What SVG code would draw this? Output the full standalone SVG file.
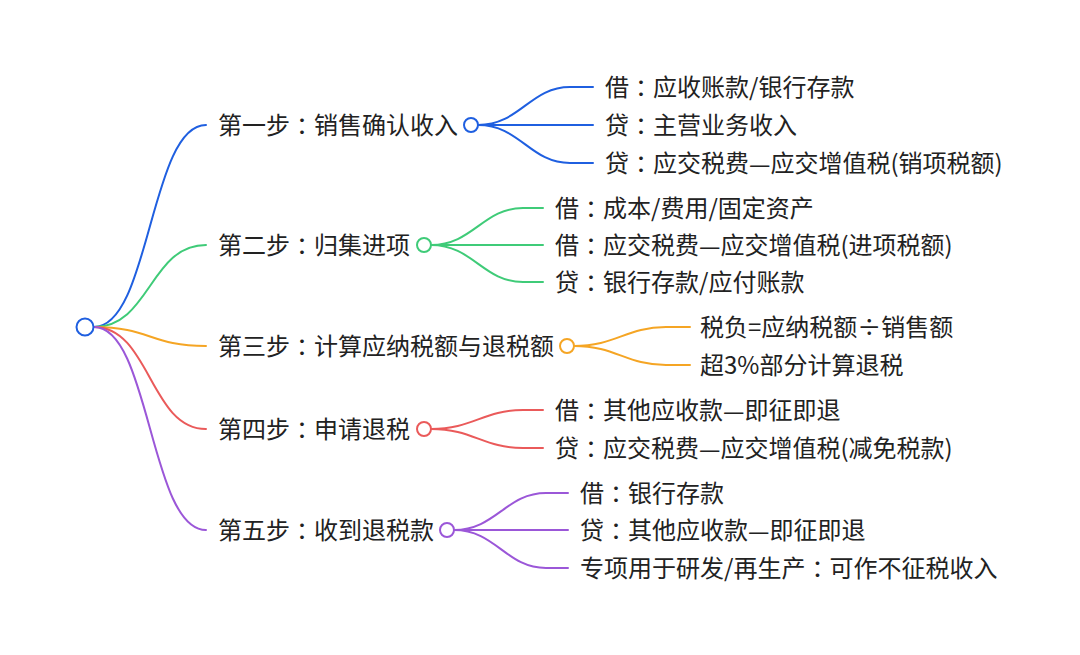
<svg xmlns="http://www.w3.org/2000/svg" width="1080" height="655" viewBox="0 0 1080 655">
<style>
text{font-family:"Noto Sans CJK SC","Noto Sans",sans-serif;font-size:24px;fill:#222;dominant-baseline:central}
.k{font-family:"Noto Sans CJK TC","Noto Sans CJK JP",sans-serif}
.l{fill:none;stroke-width:2;stroke-linecap:round}
.c{fill:#fff;stroke-width:2}
.b{stroke:#1f5fe0}.g{stroke:#3fcb78}.o{stroke:#f5a524}.r{stroke:#ea5a5a}.p{stroke:#9b57d8}
</style>
<rect width="1080" height="655" fill="#fff"/>
<g id="connectors">
<path class="l b" d="M94 327 C150 327,150 125,206 125"/>
<path class="l g" d="M94 327 C150 327,150 245,206 245"/>
<path class="l o" d="M94 327 C150 327,150 346,206 346"/>
<path class="l r" d="M94 327 C150 327,150 429,206 429"/>
<path class="l p" d="M94 327 C150 327,150 530,206 530"/>
<path class="l b" d="M478 125 C520 125,530 87,570 87 L593 87"/>
<path class="l b" d="M478 125 L593 125"/>
<path class="l b" d="M478 125 C520 125,530 163,570 163 L593 163"/>
<path class="l g" d="M431 245 C473 245,483 208,523 208 L543 208"/>
<path class="l g" d="M431 245 L543 245"/>
<path class="l g" d="M431 245 C473 245,483 282,523 282 L543 282"/>
<path class="l o" d="M574 346 C616 346,626 327,666 327 L690 327"/>
<path class="l o" d="M574 346 C616 346,626 365,666 365 L690 365"/>
<path class="l r" d="M431 429 C473 429,483 410,523 410 L543 410"/>
<path class="l r" d="M431 429 C473 429,483 448,523 448 L543 448"/>
<path class="l p" d="M454 530 C496 530,506 493,546 493 L568 493"/>
<path class="l p" d="M454 530 L568 530"/>
<path class="l p" d="M454 530 C496 530,506 568,546 568 L568 568"/>
</g>
<g id="root"><circle class="c b" cx="85" cy="327" r="8.5"/></g>
<g id="step1">
<text x="218" y="123.5">第一步<tspan class="k">：</tspan>销售确认收入</text>
<circle class="c b" cx="471" cy="125" r="7"/>
</g>
<g id="step1-a"><text x="605" y="85.5">借<tspan class="k">：</tspan>应收账款/银行存款</text></g>
<g id="step1-b"><text x="605" y="123.5">贷<tspan class="k">：</tspan>主营业务收入</text></g>
<g id="step1-c"><text x="605" y="161.5">贷<tspan class="k">：</tspan>应交税费<tspan class="k">—</tspan>应交增值税(销项税额)</text></g>
<g id="step2">
<text x="218" y="243.5">第二步<tspan class="k">：</tspan>归集进项</text>
<circle class="c g" cx="424" cy="245" r="7"/>
</g>
<g id="step2-a"><text x="555" y="206.5">借<tspan class="k">：</tspan>成本/费用/固定资产</text></g>
<g id="step2-b"><text x="555" y="243.5">借<tspan class="k">：</tspan>应交税费<tspan class="k">—</tspan>应交增值税(进项税额)</text></g>
<g id="step2-c"><text x="555" y="280.5">贷<tspan class="k">：</tspan>银行存款/应付账款</text></g>
<g id="step3">
<text x="218" y="344.5">第三步<tspan class="k">：</tspan>计算应纳税额与退税额</text>
<circle class="c o" cx="567" cy="346" r="7"/>
</g>
<g id="step3-a"><text x="700" y="325.5">税负=应纳税额÷销售额</text></g>
<g id="step3-b"><text x="700" y="363.5">超3%部分计算退税</text></g>
<g id="step4">
<text x="218" y="427.5">第四步<tspan class="k">：</tspan>申请退税</text>
<circle class="c r" cx="424" cy="429" r="7"/>
</g>
<g id="step4-a"><text x="555" y="408.5">借<tspan class="k">：</tspan>其他应收款<tspan class="k">—</tspan>即征即退</text></g>
<g id="step4-b"><text x="555" y="446.5">贷<tspan class="k">：</tspan>应交税费<tspan class="k">—</tspan>应交增值税(减免税款)</text></g>
<g id="step5">
<text x="218" y="528.5">第五步<tspan class="k">：</tspan>收到退税款</text>
<circle class="c p" cx="447" cy="530" r="7"/>
</g>
<g id="step5-a"><text x="580" y="491.5">借<tspan class="k">：</tspan>银行存款</text></g>
<g id="step5-b"><text x="580" y="528.5">贷<tspan class="k">：</tspan>其他应收款<tspan class="k">—</tspan>即征即退</text></g>
<g id="step5-c"><text x="580" y="566.5">专项用于研发/再生产<tspan class="k">：</tspan>可作不征税收入</text></g>
</svg>
